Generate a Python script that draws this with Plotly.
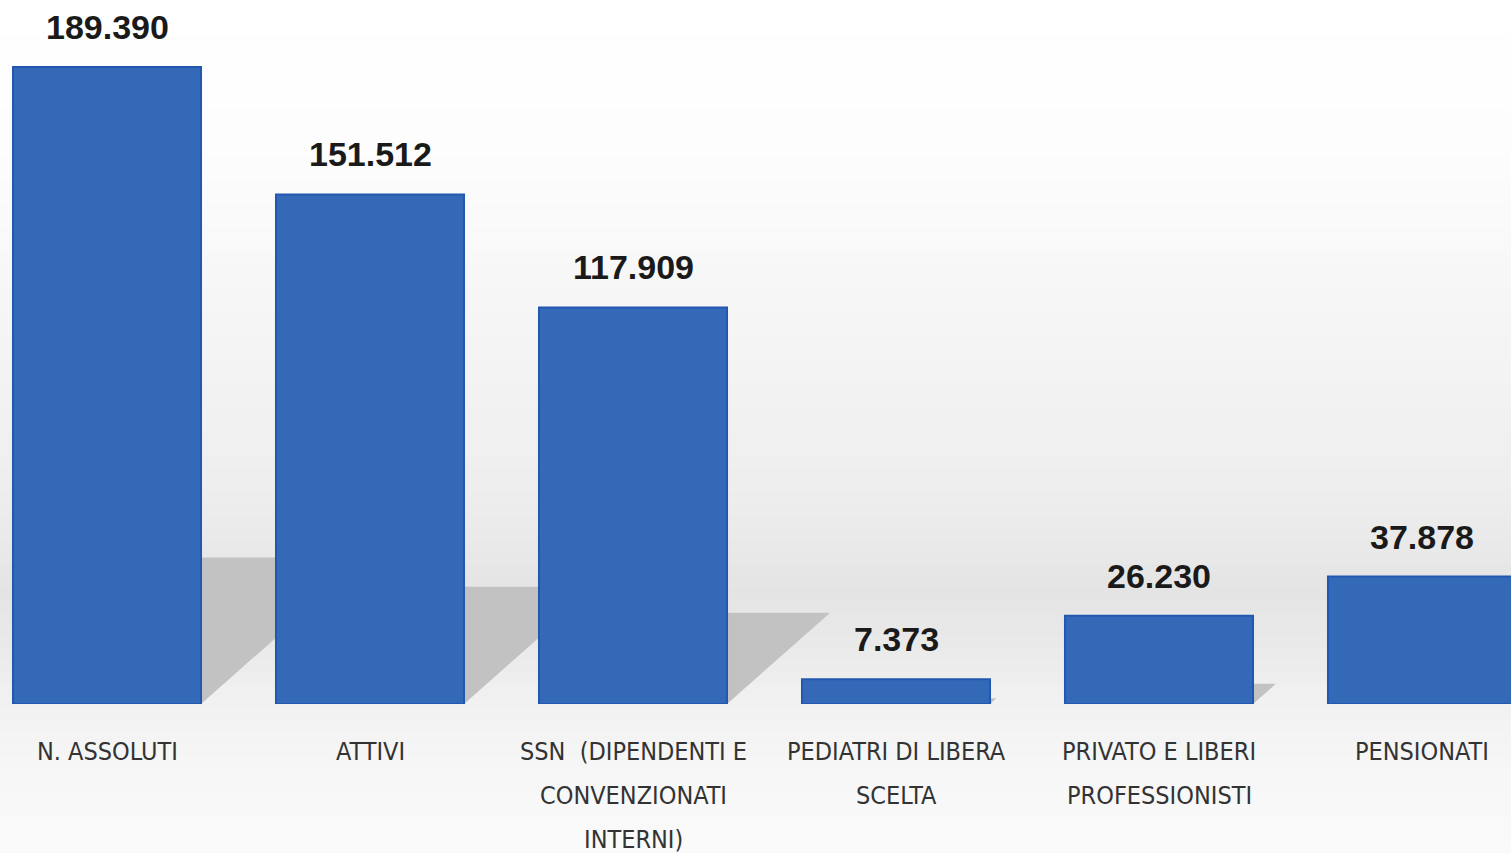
import plotly.graph_objects as go

categories = ["N. ASSOLUTI", "ATTIVI", "SSN  (DIPENDENTI E<br>CONVENZIONATI<br>INTERNI)",
              "PEDIATRI DI LIBERA<br>SCELTA", "PRIVATO E LIBERI<br>PROFESSIONISTI", "PENSIONATI"]
values = [189390, 151512, 117909, 7373, 26230, 37878]
labels = [f"{v:,}".replace(",", ".") for v in values]

W, H = 1511, 853
PLOT_H = 704
Y_MAX = 189390 * PLOT_H / 637
X_RANGE = [-107 / 263, (W - 107) / 263]
BAR_W = 0.715
PX_PER_X = W / (X_RANGE[1] - X_RANGE[0])
PX_PER_Y = PLOT_H / Y_MAX

fig = go.Figure()

# ---- soft background gradient (decoration), screen-y stops -> paper coords
stops = [(0, (255, 255, 255)), (150, (253, 253, 253)), (300, (246, 246, 246)),
         (450, (240, 240, 240)), (540, (234, 234, 234)), (590, (228, 228, 228)),
         (640, (233, 233, 233)), (700, (241, 241, 241)), (760, (246, 246, 246)),
         (853, (250, 250, 250))]


def col_at(s):
    for (s0, c0), (s1, c1) in zip(stops[:-1], stops[1:]):
        if s0 <= s <= s1:
            t = (s - s0) / (s1 - s0)
            return tuple(round(a + (b - a) * t) for a, b in zip(c0, c1))
    return stops[-1][1]


step = 12
for s in range(-12, 866, step):
    c = col_at(max(0, min(853, s + step / 2)))
    fig.add_shape(type="rect", xref="paper", yref="paper", x0=-0.02, x1=1.02,
                  y0=(PLOT_H - (s + step)) / PLOT_H, y1=(PLOT_H - s) / PLOT_H,
                  fillcolor="rgb(%d,%d,%d)" % c, line_width=0, layer="below")

# ---- cast shadows behind bars (derived from values), drawn below the bars
for i, v in enumerate(values):
    h_px = v * PX_PER_Y
    dx = 0.26 * h_px / PX_PER_X
    sh = 0.23 * v
    x0, x1 = i - BAR_W / 2, i + BAR_W / 2
    path = "M %f,0 L %f,0 L %f,%f L %f,%f Z" % (x0, x1, x1 + dx, sh, x0 + dx, sh)
    fig.add_shape(type="path", xref="x", yref="y", path=path,
                  fillcolor="#c2c2c2", line_width=0, layer="below")

fig.add_trace(go.Bar(
    x=list(range(len(categories))), y=values,
    marker=dict(color="#3469b8", line=dict(color="#2358b0", width=2)),
    width=BAR_W, showlegend=False, hoverinfo="skip",
))

# value labels
for i, (v, t) in enumerate(zip(values, labels)):
    fig.add_annotation(x=i, y=v, xref="x", yref="y", text="<b>%s</b>" % t,
                       showarrow=False, yanchor="middle", yshift=40,
                       font=dict(family="Liberation Sans, Arial, sans-serif",
                                 size=34, color="#1a1a1a"))

# category labels (line by line, wider leading as in the reference)
for i, cat in enumerate(categories):
    for j, line in enumerate(cat.split("<br>")):
        fig.add_annotation(x=i, y=0, xref="x", yref="paper", text=line,
                           showarrow=False, yanchor="middle", yshift=-(47 + 44 * j),
                           font=dict(family="DejaVu Sans Condensed, sans-serif",
                                     size=25, color="#333333"))

fig.update_layout(
    width=W, height=H,
    margin=dict(l=0, r=0, t=0, b=H - PLOT_H),
    paper_bgcolor="white", plot_bgcolor="rgba(0,0,0,0)",
    showlegend=False,
    xaxis=dict(range=X_RANGE, showticklabels=False, showgrid=False,
               zeroline=False, showline=False, ticks=""),
    yaxis=dict(range=[0, Y_MAX], visible=False, showgrid=False, zeroline=False),
)

fig.write_html("out.html", config={"displayModeBar": False},
               post_script="document.body.style.margin='0px';document.body.style.overflow='hidden';")
